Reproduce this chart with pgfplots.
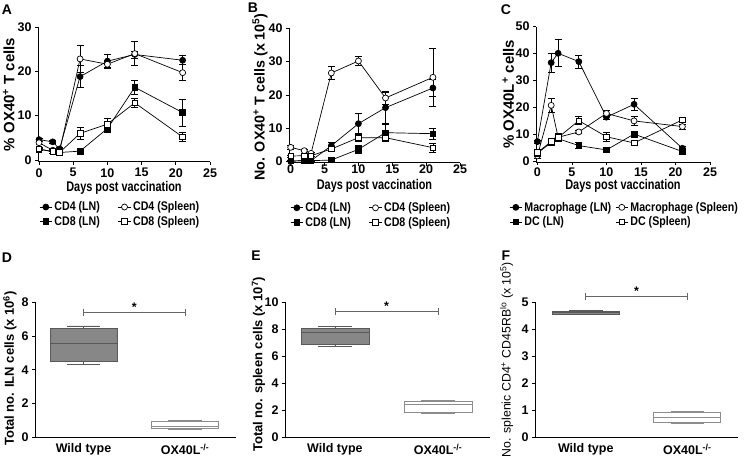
\documentclass[border=0pt]{standalone}
\usepackage{fontspec}
\setmainfont{Liberation Sans}
\newfontfamily\narrowfont{Liberation Sans}[FakeStretch=0.78]
\newfontfamily\legfont{Liberation Sans}[FakeStretch=0.85]
\usepackage{pgfplots}
\usepackage{pgfplotstable}
\pgfplotsset{compat=1.18}
\usepgfplotslibrary{statistics}

\newcommand{\tickf}{\bfseries\fontsize{12.5}{14}\selectfont}
\newcommand{\xlabf}{\narrowfont\bfseries\fontsize{14}{16}\selectfont}
\newcommand{\ylabf}{\bfseries\fontsize{15}{17}\selectfont}
\newcommand{\ylabbf}{\bfseries\fontsize{13}{15}\selectfont}
\newcommand{\legf}{\legfont\bfseries\fontsize{12.5}{14}\selectfont}

\pgfplotsset{
  gp/.style={
    scale only axis, axis lines=left, axis line style={-, line width=0.7pt},
    tick align=outside, major tick length=3pt, tick style={black, line width=0.7pt},
    /pgf/number format/assume math mode=true,
    ticklabel style={font=\tickf},
    clip=false,
  },
  tp/.style={gp, xmin=-0.2, xmax=25, xtick={0,5,...,25},
    xlabel={Days post vaccination},
    xlabel style={font=\xlabf, at={(axis description cs:0.5,-0.19)}, anchor=center},
    ylabel style={font=\ylabf},
    legend columns=2,
    legend cell align=left,
    legend style={draw=none, fill=none, anchor=north west, at={(0.006,-0.28)},
      font=\legf, row sep=0pt, inner sep=0pt},
    legend image code/.code={\draw[mark repeat=2,mark phase=2]
      plot coordinates {(0cm,0cm) (0.22cm,0cm) (0.44cm,0cm)};},
  },
  dat/.style={black, line width=0.7pt, mark size=3pt,
    error bars/y dir=both, error bars/y explicit,
    error bars/error bar style={line width=0.7pt, black},
    error bars/error mark options={rotate=90, black, mark size=3.5pt, line width=0.7pt}},
  fc/.style={dat, mark=*, mark options={fill=black, solid}},
  oc/.style={dat, mark=*, mark options={fill=white, solid}},
  fs/.style={dat, mark=square*, mark size=2.8pt, mark options={fill=black, solid}},
  os/.style={dat, mark=square*, mark size=2.8pt, mark options={fill=white, solid}},
  bp/.style={gp, xmax=2.5, ymin=0, xtick={1,2}, xtick style={draw=none},
    ylabel style={font=\ylabbf},
    xticklabels={Wild type, OX40L\textsuperscript{-/-}}},
  wt/.style={draw=black!65, fill=black!47, line width=0.7pt},
  ko/.style={draw=black!45, fill=white, line width=0.7pt},
  br/.style={black!60, line width=0.7pt},
}

% Panel A: % OX40+ T cells
\pgfplotstableread{
x y e
0 4.6 0.3
2 4.1 0.3
3 2.5 0.3
6 18.8 2.5
10 22.3 1.5
14 23.8 0.8
21 22.5 1.0
}\aCDfourLN
\pgfplotstableread{
x y e
0 3.9 0.3
2 2.2 0.3
3 1.9 0.3
6 22.8 3.0
10 21.6 0.9
14 24.0 2.7
21 19.7 1.8
}\aCDfourSp
\pgfplotstableread{
x y e
0 2.4 0.3
2 1.9 0.3
3 1.7 0.3
6 2.0 0.3
10 7.1 0.9
14 16.4 1.5
21 10.7 3.0
}\aCDeightLN
\pgfplotstableread{
x y e
0 2.5 0.3
2 1.9 0.3
3 1.7 0.3
6 6.0 1.4
10 8.1 1.2
14 12.9 1.1
21 5.2 1.1
}\aCDeightSp

% Panel B: No. OX40+ T cells
\pgfplotstableread{
x y e
0 0.2 0.2
2 0.3 0.2
3 0.3 0.2
6 4.8 1.0
10 11.4 3.2
14 16.2 4.8
21 22.1 2.6
}\bCDfourLN
\pgfplotstableread{
x y e
0 4.3 0.5
2 3.3 0.3
3 2.5 0.3
6 26.6 2.0
10 30.2 1.3
14 19.1 1.8
21 25.3 8.8
}\bCDfourSp
\pgfplotstableread{
x y e
0 0.2 0.1
2 0.3 0.1
3 0.3 0.1
6 0.5 0.2
10 3.7 1.3
14 8.7 2.5
21 8.4 1.6
}\bCDeightLN
\pgfplotstableread{
x y e
0 1.7 0.3
2 1.8 0.3
3 1.8 0.3
6 3.8 0.6
10 7.2 1.2
14 7.2 0.6
21 4.2 1.3
}\bCDeightSp

% Panel C: % OX40L+ cells
\pgfplotstableread{
x y e
0 7.2 0.5
2 36.6 3.5
3 40.1 5.0
6 37.0 2.5
10 16.3 0.8
14 21.1 2.3
21 4.7 0.6
}\cMacLN
\pgfplotstableread{
x y e
0 1.9 1.0
2 20.7 2.5
3 8.8 1.5
6 10.8 0.7
10 17.7 1.0
14 14.9 1.7
21 12.8 1.0
}\cMacSp
\pgfplotstableread{
x y e
0 2.9 0.5
2 6.8 0.8
3 8.3 0.6
6 5.7 1.2
10 4.1 0.5
14 10.0 0.7
21 3.5 0.5
}\cDCLN
\pgfplotstableread{
x y e
0 3.1 1.0
2 7.2 0.8
3 8.7 0.8
6 15.0 1.5
10 9.0 1.8
14 6.7 0.8
21 15.3 1.0
}\cDCSp

\begin{document}
\begin{tikzpicture}
\useasboundingbox (0,0) rectangle (751pt,465pt);

% ---- A ----
\begin{axis}[tp, at={(38pt,303.2pt)}, anchor=south west, width=172pt, height=134.8pt,
  xmin=-0.15, ymin=-0.4, ymax=30, ytick={0,10,20,30},
  ylabel={\% OX40\textsuperscript{+} T cells},
  ylabel style={at={(axis description cs:-0.17,0.5)}, anchor=center},
  /tikz/every even column/.append style={column sep=16pt}]
\addplot[fc] table[x=x, y=y, y error=e] {\aCDfourLN};
\addplot[oc] table[x=x, y=y, y error=e] {\aCDfourSp};
\addplot[fs] table[x=x, y=y, y error=e] {\aCDeightLN};
\addplot[os] table[x=x, y=y, y error=e] {\aCDeightSp};
\legend{CD4 (LN), CD4 (Spleen), CD8 (LN), CD8 (Spleen)}
\end{axis}

% ---- B ----
\begin{axis}[tp, at={(289pt,302.3pt)}, anchor=south west, width=171pt, height=134.4pt,
  xmin=-0.25, ymin=-0.3, ymax=40, ytick={0,10,20,30,40},
  ylabel={No. OX40\textsuperscript{+} T cells (x 10\textsuperscript{5})},
  ylabel style={font=\bfseries\fontsize{14.3}{16}\selectfont,
    at={(axis description cs:-0.17,0.49)}, anchor=center},
  xticklabel style={yshift=4pt},
  xlabel style={at={(axis description cs:0.5,-0.175)}},
  /tikz/every even column/.append style={column sep=16pt}]
\addplot[fc] table[x=x, y=y, y error=e] {\bCDfourLN};
\addplot[oc] table[x=x, y=y, y error=e] {\bCDfourSp};
\addplot[fs] table[x=x, y=y, y error=e] {\bCDeightLN};
\addplot[os] table[x=x, y=y, y error=e] {\bCDeightSp};
\legend{CD4 (LN), CD4 (Spleen), CD8 (LN), CD8 (Spleen)}
\end{axis}

% ---- C ----
\begin{axis}[tp, at={(536pt,303pt)}, anchor=south west, width=174pt, height=135.3pt,
  xmin=-0.2, ymin=-0.4, ymax=50, ytick={0,10,...,50},
  ylabel={\% OX40L\textsuperscript{+} cells},
  ylabel style={at={(axis description cs:-0.16,0.5)}, anchor=center},
  xticklabel style={yshift=1pt},
  xlabel style={at={(axis description cs:0.5,-0.175)}},
  legend style={at={(-0.155,-0.28)}},
  /tikz/every even column/.append style={column sep=2pt}]
\addplot[fc] table[x=x, y=y, y error=e] {\cMacLN};
\addplot[oc] table[x=x, y=y, y error=e] {\cMacSp};
\addplot[fs] table[x=x, y=y, y error=e] {\cDCLN};
\addplot[os] table[x=x, y=y, y error=e] {\cDCSp};
\legend{Macrophage (LN), Macrophage (Spleen), DC (LN), DC (Spleen)}
\end{axis}

% ---- D ----
\begin{axis}[bp, at={(35pt,27.7pt)}, anchor=south west, width=200.75pt, height=135pt,
  xmin=0.522, ymax=8, ytick={0,2,...,8},
  ylabel={Total no. ILN cells (x 10\textsuperscript{6})},
  ylabel style={at={(axis description cs:-0.125,0.51)}, anchor=center}]
\addplot[wt, boxplot prepared={draw direction=y, draw position=1, lower whisker=4.3,
  lower quartile=4.5, median=5.56, upper quartile=6.45, upper whisker=6.6,
  box extend=0.66, whisker extend=0.33}] coordinates {};
\addplot[ko, boxplot prepared={draw direction=y, draw position=2, lower whisker=0.5,
  lower quartile=0.52, median=0.65, upper quartile=0.95, upper whisker=0.99,
  box extend=0.66, whisker extend=0.33}] coordinates {};
\addplot[br] coordinates {(1,7.38) (2,7.38)};
\addplot[br] coordinates {(1,7.17) (1,7.59)};
\addplot[br] coordinates {(2,7.17) (2,7.59)};
\node[font=\tickf, anchor=south, inner sep=1pt] at (axis cs:1.5,7.38) {*};
\end{axis}

% ---- E ----
\begin{axis}[bp, at={(285pt,27.7pt)}, anchor=south west, width=204.5pt, height=135pt,
  xmin=0.515, ymax=10, ytick={0,2,...,10},
  ylabel={Total no. spleen cells (x 10\textsuperscript{7})},
  ylabel style={at={(axis description cs:-0.13,0.54)}, anchor=center}]
\addplot[wt, boxplot prepared={draw direction=y, draw position=1, lower whisker=6.7,
  lower quartile=6.92, median=7.77, upper quartile=8.06, upper whisker=8.19,
  box extend=0.66, whisker extend=0.33}] coordinates {};
\addplot[ko, boxplot prepared={draw direction=y, draw position=2, lower whisker=1.74,
  lower quartile=1.86, median=2.41, upper quartile=2.68, upper whisker=2.75,
  box extend=0.66, whisker extend=0.33}] coordinates {};
\addplot[br] coordinates {(1,9.3) (2,9.3)};
\addplot[br] coordinates {(1,9.04) (1,9.56)};
\addplot[br] coordinates {(2,9.04) (2,9.56)};
\node[font=\tickf, anchor=south, inner sep=1pt] at (axis cs:1.5,9.3) {*};
\end{axis}

% ---- F ----
\begin{axis}[bp, at={(535pt,27.7pt)}, anchor=south west, width=203pt, height=135pt,
  xmin=0.5, ymax=5, ytick={0,1,...,5},
  ylabel={No. splenic CD4\textsuperscript{+} CD45RB\textsuperscript{lo} (x 10\textsuperscript{5})},
  ylabel style={font=\mdseries\fontsize{12.3}{14}\selectfont,
    at={(axis description cs:-0.14,0.575)}, anchor=center}]
\addplot[wt, boxplot prepared={draw direction=y, draw position=1, lower whisker=4.55,
  lower quartile=4.56, median=4.62, upper quartile=4.68, upper whisker=4.71,
  box extend=0.66, whisker extend=0.33}] coordinates {};
\addplot[ko, boxplot prepared={draw direction=y, draw position=2, lower whisker=0.52,
  lower quartile=0.57, median=0.74, upper quartile=0.93, upper whisker=0.97,
  box extend=0.66, whisker extend=0.33}] coordinates {};
\addplot[br] coordinates {(1,5.21) (2,5.21)};
\addplot[br] coordinates {(1,5.08) (1,5.34)};
\addplot[br] coordinates {(2,5.08) (2,5.34)};
\node[font=\tickf, anchor=south, inner sep=1pt] at (axis cs:1.5,5.21) {*};
\end{axis}

% panel letters
\node[font=\bfseries\fontsize{14}{16}\selectfont] at (7pt,455pt) {A};
\node[font=\bfseries\fontsize{14}{16}\selectfont] at (253pt,457pt) {B};
\node[font=\bfseries\fontsize{14}{16}\selectfont] at (506pt,455pt) {C};
\node[font=\bfseries\fontsize{14}{16}\selectfont] at (7pt,207pt) {D};
\node[font=\bfseries\fontsize{14}{16}\selectfont] at (256pt,209pt) {E};
\node[font=\bfseries\fontsize{14}{16}\selectfont] at (506pt,209pt) {F};
\end{tikzpicture}
\end{document}
